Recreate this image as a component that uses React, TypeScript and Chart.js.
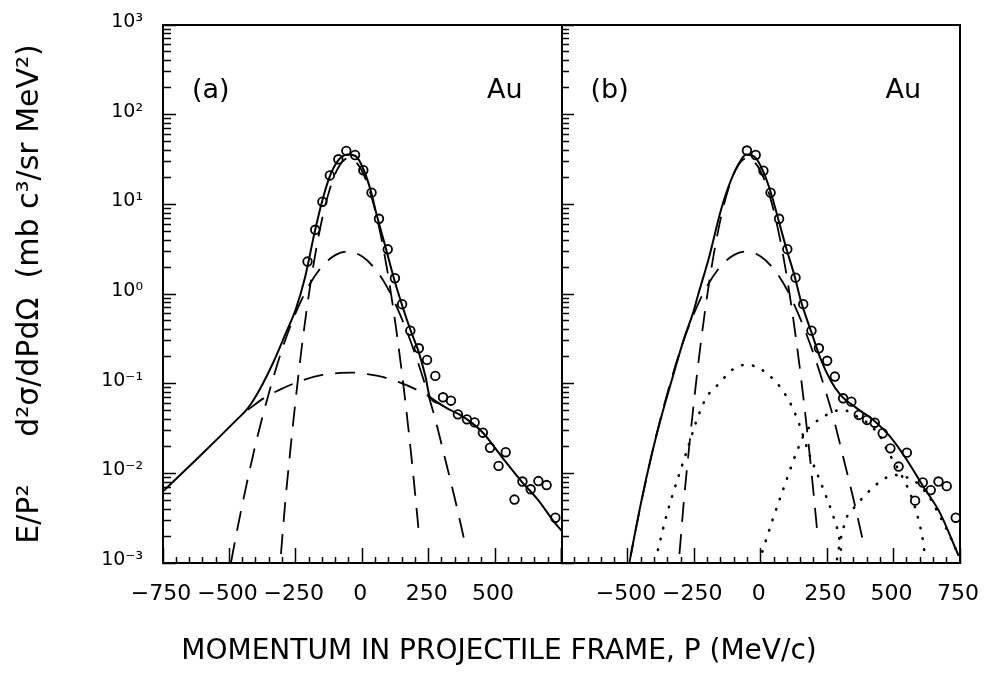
import { useEffect, useRef } from "react";
import { Chart, registerables } from "chart.js";

Chart.register(...registerables);

const FONT = '"DejaVu Sans", "Liberation Sans", sans-serif';

// ---- Panel (a): measured cross sections ----
const A_P = [-206, -177, -150, -122, -90, -60, -27, 4, 35, 63, 96, 123, 150, 181, 213, 244, 275, 304, 334, 360, 394, 423, 454, 481, 513, 540, 573, 603, 634, 663, 694, 727];
const A_XS = [2.3, 5.2, 10.7, 21, 31.8, 39.5, 35.5, 24, 13.5, 6.9, 3.15, 1.5, 0.77, 0.39, 0.248, 0.184, 0.122, 0.0705, 0.0646, 0.0455, 0.04, 0.037, 0.0284, 0.0193, 0.0121, 0.0172, 0.0051, 0.0081, 0.00664, 0.0082, 0.0074, 0.0032];

// Panel (a): total fit (solid)
const A_FIT_P = [-750, -612, -475, -431, -387, -336, -287, -250, -215, -181, -154, -125, -94, -56, -22, 6, 31, 56, 88, 119, 150, 181, 212, 238, 254, 290, 325, 362, 410, 456, 525, 600, 663, 725, 750];
const A_FIT_XS = [0.0063, 0.0155, 0.039, 0.053, 0.085, 0.17, 0.37, 0.68, 1.55, 4.6, 10, 19.5, 30, 36, 34, 24, 14.5, 7.3, 3.3, 1.5, 0.75, 0.4, 0.228, 0.12, 0.0716, 0.06, 0.052, 0.046, 0.037, 0.028, 0.0153, 0.0081, 0.005, 0.0028, 0.0023];

// Gaussian components (dashed), shared by both panels
const NARROW_P = [-306, -290, -270, -250, -230, -206, -180, -150, -120, -90, -50, -20, 10, 40, 70, 100, 130, 160, 190, 215];
const NARROW_XS = [0.00126, 0.0047, 0.019, 0.069, 0.224, 0.78, 2.45, 7.1, 15.5, 25.7, 33, 28.8, 20, 10.7, 4.47, 1.45, 0.363, 0.072, 0.011, 0.0019];
const MEDIUM_P = [-494, -470, -440, -400, -350, -300, -250, -200, -150, -100, -55, 0, 50, 100, 150, 200, 262, 279, 313, 348, 388];
const MEDIUM_XS = [0.00102, 0.0024, 0.0065, 0.022, 0.081, 0.25, 0.62, 1.25, 2.05, 2.73, 2.97, 2.62, 1.88, 1.1, 0.52, 0.21, 0.055, 0.036, 0.0141, 0.0053, 0.0016];

// Panel (a): broad component (dashed)
const BROAD_P = [-431, -370, -306, -225, -150, -81, -40, 25, 80, 138, 200, 254, 325];
const BROAD_XS = [0.051, 0.069, 0.087, 0.109, 0.125, 0.132, 0.133, 0.127, 0.118, 0.104, 0.087, 0.071, 0.051];

// ---- Panel (b): measured cross sections ----
const B_P = [-52, -19, 10, 37, 69, 100, 131, 160, 191, 219, 250, 279, 310, 341, 369, 400, 429, 459, 488, 519, 550, 581, 610, 640, 669, 700, 734];
const B_XS = [39.8, 35.5, 23.7, 13.5, 6.9, 3.16, 1.52, 0.77, 0.39, 0.248, 0.18, 0.12, 0.0687, 0.063, 0.0448, 0.0394, 0.0367, 0.028, 0.019, 0.0119, 0.017, 0.00496, 0.0079, 0.0065, 0.0081, 0.0072, 0.0032];

// Panel (b): total fit (solid)
const B_FIT_P = [-490, -450, -412, -375, -331, -287, -256, -237, -194, -150, -112, -75, -55, -19, 10, 37, 65, 96, 128, 150, 162, 194, 225, 262, 300, 362, 425, 487, 550, 612, 675, 731, 745];
const B_FIT_XS = [0.0012, 0.0048, 0.0155, 0.042, 0.12, 0.33, 0.6, 0.95, 2.6, 8.6, 18.6, 31, 36, 33, 23, 13.8, 7.0, 3.24, 1.56, 0.86, 0.66, 0.35, 0.19, 0.11, 0.075, 0.053, 0.039, 0.0256, 0.0141, 0.0071, 0.0036, 0.0015, 0.0012];

// Panel (b): additional components (dotted)
const D1_P = [-387, -356, -334, -306, -275, -244, -206, -162, -100, -56, -12, 50, 81, 112, 144, 181, 212, 237, 269, 294, 305];
const D1_XS = [0.0014, 0.0033, 0.0055, 0.01, 0.019, 0.037, 0.069, 0.097, 0.148, 0.162, 0.152, 0.11, 0.085, 0.06, 0.036, 0.0168, 0.01, 0.0065, 0.0036, 0.002, 0.0012];
const D2_P = [6, 44, 88, 138, 169, 200, 237, 275, 312, 350, 387, 450, 475, 512, 562, 587, 612, 619];
const D2_XS = [0.00134, 0.003, 0.0071, 0.0182, 0.029, 0.036, 0.043, 0.049, 0.051, 0.0448, 0.0394, 0.0256, 0.0182, 0.0119, 0.006, 0.0036, 0.00166, 0.0011];
const D3_P = [287, 300, 312, 325, 344, 375, 412, 450, 500, 537, 575, 612, 637, 662, 687, 712, 731, 745];
const D3_XS = [0.0011, 0.0018, 0.0025, 0.0033, 0.0039, 0.005, 0.0065, 0.0081, 0.0096, 0.0092, 0.0084, 0.0066, 0.0053, 0.0039, 0.0028, 0.002, 0.0015, 0.0012];

// ---- Axes ----
const X_MIN = -750;
const X_MAX = 750;
const X_MINOR_STEP = 50;
const X_MAJOR = [-750, -500, -250, 0, 250, 500, 750];
const X_LABELS_A = ["\u2212750", "\u2212500", "\u2212250", "0", "250", "500", ""];
const X_LABELS_B = ["", "\u2212500", "\u2212250", "0", "250", "500", "750"];
const Y_DECADES = [0.001, 0.01, 0.1, 1, 10, 100, 1000];
const Y_DECADE_LABELS = ["10\u207B\u00B3", "10\u207B\u00B2", "10\u207B\u00B9", "10\u2070", "10\u00B9", "10\u00B2", "10\u00B3"];
const Y_MINOR_STEPS = [1, 2, 3, 4, 5, 6, 7, 8, 9];
const X_TITLE = "MOMENTUM IN PROJECTILE FRAME, P (MeV/c)";
const Y_TITLE = "E/P\u00B2     d\u00B2\u03C3/dPd\u03A9  (mb c\u00B3/sr MeV\u00B2)";
const PANEL_TAGS = [
  ["xa", "(a)"],
  ["xb", "(b)"],
];
const TARGET = "Au";

const series = (xs: number[], ys: number[]) => xs.map((x, i) => ({ x, y: ys[i] }));

const yTicks = () =>
  Y_DECADES.flatMap((d, i) =>
    i === Y_DECADES.length - 1 ? [{ value: d }] : Y_MINOR_STEPS.map((k) => ({ value: d * k }))
  );
const decadeIndex = (v: number) => Y_DECADES.findIndex((d) => Math.abs(Math.log10(v / d)) < 1e-6);

const xTicks = () => {
  const t: { value: number }[] = [];
  for (let v = X_MIN; v <= X_MAX; v += X_MINOR_STEP) t.push({ value: v });
  return t;
};

const BLACK = "#000";
const DASH = [20, 12];
const DOT = [0.5, 10.5];

const markers = (xAxisID: string, xs: number[], ys: number[]) => ({
  data: series(xs, ys),
  xAxisID,
  yAxisID: "y",
  showLine: false,
  pointRadius: 4.3,
  pointBorderWidth: 1.8,
  pointBorderColor: BLACK,
  pointBackgroundColor: "rgba(0,0,0,0)",
  order: 0,
});

const curve = (xAxisID: string, xs: number[], ys: number[], kind: "solid" | "dash" | "dot") => ({
  data: series(xs, ys),
  xAxisID,
  yAxisID: "y",
  showLine: true,
  pointRadius: 0,
  borderColor: BLACK,
  borderWidth: kind === "solid" ? 2 : kind === "dash" ? 1.8 : 2.6,
  borderDash: kind === "solid" ? [] : kind === "dash" ? DASH : DOT,
  borderCapStyle: kind === "dot" ? "round" : "butt",
  cubicInterpolationMode: "monotone",
  fill: false,
  order: 1,
});

const xAxis = (labels: string[]) => ({
  type: "linear",
  position: "bottom",
  stack: "panels",
  min: X_MIN,
  max: X_MAX,
  afterBuildTicks: (s: any) => {
    s.ticks = xTicks();
  },
  afterFit: (s: any) => {
    s.height = 70.4;
    s.paddingLeft = 0;
    s.paddingRight = 0;
  },
  ticks: {
    autoSkip: false,
    maxRotation: 0,
    minRotation: 0,
    padding: 33,
    labelOffset: -2,
    color: BLACK,
    font: { size: 22 },
    callback: (v: number) => {
      const i = X_MAJOR.indexOf(v);
      return i < 0 ? "" : labels[i];
    },
  },
  grid: {
    drawOnChartArea: false,
    drawTicks: true,
    tickLength: -15,
    tickWidth: 1.5,
    tickColor: BLACK,
    tickBorderDash: (c: any) => (c.tick && X_MAJOR.includes(c.tick.value) ? [] : [7, 100]),
  },
  border: { display: true, color: BLACK, width: 2 },
});

const logAxisBase = {
  type: "logarithmic",
  min: Y_DECADES[0],
  max: Y_DECADES[Y_DECADES.length - 1],
  afterBuildTicks: (s: any) => {
    s.ticks = yTicks();
  },
};

// Text tags inside each panel
const panelTags = {
  id: "panelTags",
  afterDraw(chart: any) {
    const { ctx, chartArea, scales } = chart;
    ctx.save();
    ctx.fillStyle = BLACK;
    ctx.font = `27px ${FONT}`;
    ctx.textBaseline = "middle";
    const y = chartArea.top + 66;
    for (const [axisId, tag] of PANEL_TAGS) {
      const s = scales[axisId];
      ctx.textAlign = "left";
      ctx.fillText(tag, s.left + 29, y);
      ctx.textAlign = "right";
      ctx.fillText(TARGET, s.right - 39, y);
    }
    ctx.restore();
  },
};

export default function App() {
  const ref = useRef<HTMLCanvasElement | null>(null);

  useEffect(() => {
    if (!ref.current) return;
    Chart.defaults.font.family = FONT;
    Chart.defaults.color = BLACK;

    const chart = new Chart(ref.current, {
      type: "line",
      data: {
        datasets: [
          markers("xa", A_P, A_XS),
          curve("xa", A_FIT_P, A_FIT_XS, "solid"),
          curve("xa", NARROW_P, NARROW_XS, "dash"),
          curve("xa", MEDIUM_P, MEDIUM_XS, "dash"),
          curve("xa", BROAD_P, BROAD_XS, "dash"),
          markers("xb", B_P, B_XS),
          curve("xb", B_FIT_P, B_FIT_XS, "solid"),
          curve("xb", NARROW_P, NARROW_XS, "dash"),
          curve("xb", MEDIUM_P, MEDIUM_XS, "dash"),
          curve("xb", D1_P, D1_XS, "dot"),
          curve("xb", D2_P, D2_XS, "dot"),
          curve("xb", D3_P, D3_XS, "dot"),
        ] as any,
      },
      options: {
        responsive: false,
        animation: false,
        events: [],
        layout: { padding: { left: 38, right: 25, top: 25, bottom: 0 } },
        plugins: {
          legend: { display: false },
          tooltip: { enabled: false },
          title: {
            display: true,
            position: "bottom",
            text: X_TITLE,
            color: BLACK,
            font: { size: 28, weight: "normal" },
            padding: { top: 2, bottom: 4 },
          },
        },
        scales: {
          xa: xAxis(X_LABELS_A),
          xb: xAxis(X_LABELS_B),
          xt: {
            type: "linear",
            position: "top",
            min: 0,
            max: 1,
            afterFit: (s: any) => {
              s.height = 0;
              s.paddingLeft = 0;
              s.paddingRight = 0;
            },
            ticks: { display: false },
            grid: { display: false, drawTicks: false },
            border: { color: BLACK, width: 2 },
          },
          y: {
            ...logAxisBase,
            position: "left",
            afterFit: (s: any) => {
              s.width = 125;
              s.paddingTop = 0;
              s.paddingBottom = 0;
            },
            ticks: {
              autoSkip: false,
              padding: 33,
              labelOffset: -3,
              color: BLACK,
              font: { size: 19 },
              callback: (v: number) => {
                const i = decadeIndex(v);
                return i < 0 ? "" : Y_DECADE_LABELS[i];
              },
            },
            grid: {
              drawOnChartArea: false,
              tickLength: -13,
              tickWidth: 1.5,
              tickColor: BLACK,
              tickBorderDash: (c: any) => (c.tick && decadeIndex(c.tick.value) >= 0 ? [] : [0, 5, 8, 100]),
            },
            border: { color: BLACK, width: 2 },
            title: {
              display: true,
              text: Y_TITLE,
              color: BLACK,
              font: { size: 30 },
              padding: { top: -26, bottom: 0 },
            },
          },
          yb: {
            ...logAxisBase,
            axis: "y",
            position: { xb: X_MIN },
            afterFit: (s: any) => {
              s.width = 0;
              s.paddingTop = 0;
              s.paddingBottom = 0;
            },
            ticks: { display: false },
            grid: {
              drawOnChartArea: false,
              tickLength: -13,
              tickWidth: 1.5,
              tickColor: BLACK,
              tickBorderDash: (c: any) => (c.tick && decadeIndex(c.tick.value) >= 0 ? [] : [8, 100]),
            },
            border: { color: BLACK, width: 2 },
          },
          yr: {
            type: "linear",
            position: "right",
            min: 0,
            max: 1,
            afterFit: (s: any) => {
              s.width = 0;
              s.paddingTop = 0;
              s.paddingBottom = 0;
            },
            ticks: { display: false },
            grid: { display: false, drawTicks: false },
            border: { color: BLACK, width: 2 },
          },
        } as any,
      },
      plugins: [panelTags],
    });

    return () => chart.destroy();
  }, []);

  return (
    <div style={{ position: "fixed", left: 0, top: 0, width: 985, height: 673, background: "#fff" }}>
      <canvas ref={ref} width={985} height={673} style={{ width: 985, height: 673 }} />
    </div>
  );
}
